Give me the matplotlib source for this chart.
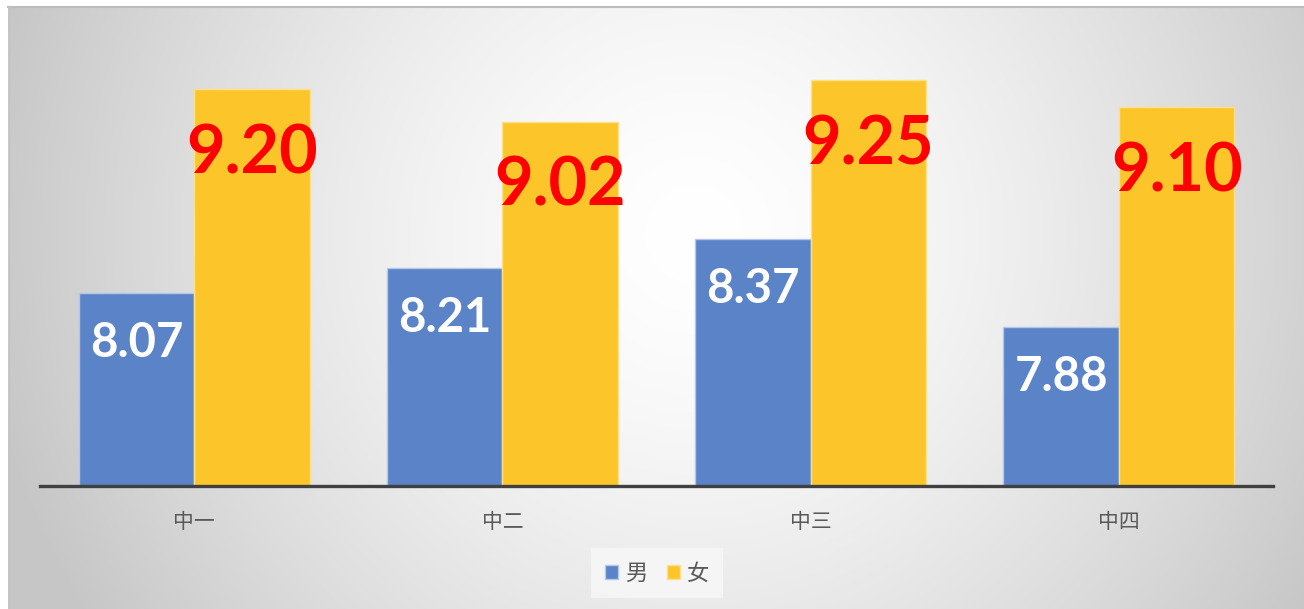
import numpy as np
import matplotlib
matplotlib.use("Agg")
import matplotlib.pyplot as plt

categories = ["中一", "中二", "中三", "中四"]
male = [8.07, 8.21, 8.37, 7.88]
female = [9.20, 9.02, 9.25, 9.10]
series_names = ["男", "女"]

W, H = 1304, 609
fig = plt.figure(figsize=(W / 100, H / 100), dpi=100)
fig.patch.set_facecolor("white")

# background gradient
bg = fig.add_axes([0, 0, 1, 1], zorder=0)
bg.set_xlim(0, W)
bg.set_ylim(H, 0)
bg.axis("off")
yy, xx = np.mgrid[0:H, 0:W]
r = np.sqrt(((xx - 690) / 720.0) ** 2 + ((yy - 230) / 720.0) ** 2)
r = np.clip(r, 0, 1)
val = 1 - 0.22 * r ** 1.5
img = np.dstack([val, val, val])
bg.imshow(img, extent=(8, W, H, 6), aspect="auto", interpolation="bilinear")
bg.plot([8, W], [6.5, 6.5], color="#BDBDBD", lw=1.5)
bg.plot([8.5, 8.5], [6, H], color="#C4C4C4", lw=1)

ax = fig.add_axes([40 / W, 1 - 486 / H, (1273 - 40) / W, (486 - 35) / H], zorder=1)
ax.patch.set_alpha(0)
x = np.arange(len(categories))
bw = 0.375
b1 = ax.bar(x - bw / 2, male, bw, color="#5A83C8", edgecolor="#B4C7E8", linewidth=1, label=series_names[0])
b2 = ax.bar(x + bw / 2, female, bw, color="#FCC62A", edgecolor="#FDE08E", linewidth=1, label=series_names[1])
ax.set_ylim(7.0, 9.5)
ax.set_xlim(-0.5, len(categories) - 0.5)
for s in ["top", "right", "left"]:
    ax.spines[s].set_visible(False)
ax.spines["bottom"].set_color("#404040")
ax.spines["bottom"].set_linewidth(2.4)
ax.set_yticks([])
ax.set_xticks(x)
ax.set_xticklabels(categories, fontsize=15, color="#595959", family=["Noto Sans CJK SC"])
ax.tick_params(axis="x", length=0, pad=18)

px_per_unit = (486 - 35) / 2.5
for xi, v in zip(x, male):
    ax.text(xi - bw / 2, v - 50 / px_per_unit, f"{v:.2f}", ha="center", va="center",
            color="white", fontsize=34, fontweight="bold", family=["Lato", "DejaVu Sans"])
for xi, v in zip(x, female):
    ax.text(xi + bw / 2, v - 65 / px_per_unit, f"{v:.2f}", ha="center", va="center",
            color="#FF0000", fontsize=48, fontweight="bold", family=["Lato", "DejaVu Sans"])

leg = fig.legend(handles=[b1, b2], labels=series_names, loc="center",
                 bbox_to_anchor=(657 / W, 1 - 573 / H), ncol=2, frameon=True,
                 prop={"family": ["Noto Sans CJK SC"], "size": 16},
                 handlelength=0.6, handleheight=0.6, handletextpad=0.3, columnspacing=0.9,
                 borderpad=0.6, fancybox=False)
leg.get_frame().set_facecolor("#F8F8F8")
leg.get_frame().set_edgecolor("none")
for t in leg.get_texts():
    t.set_color("#595959")

fig.savefig("out.png", dpi=100)
